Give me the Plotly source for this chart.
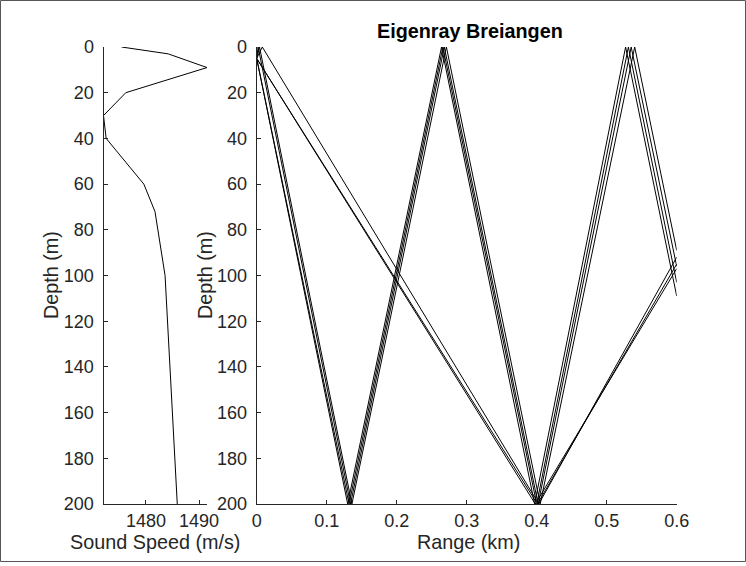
import plotly.graph_objects as go

W, H = 746, 566

# Sound speed profile
ssp_depth = [0, 3, 9, 20, 30, 40, 60, 72, 100, 200]
ssp_speed = [1475.4, 1484.2, 1491.5, 1476.2, 1472.0, 1472.5, 1479.6, 1481.7, 1483.6, 1485.9]

# Eigenrays (range km, depth m)
ray1_range = [0, 0.130, 0.264, 0.397, 0.527, 0.6]
ray1_depth = [5, 200, 0, 200, 0, 109]
ray2_range = [0, 0.132, 0.266, 0.400, 0.531, 0.6]
ray2_depth = [5, 200, 0, 200, 0, 103]
ray3_range = [0, 0.002, 0.134, 0.268, 0.402, 0.535, 0.6]
ray3_depth = [5, 0, 200, 0, 200, 0, 96]
ray4_range = [0, 0.004, 0.136, 0.271, 0.405, 0.540, 0.6]
ray4_depth = [5, 0, 200, 0, 200, 0, 89]
ray5_range = [0, 0.398, 0.6]
ray5_depth = [5, 200, 97]
ray6_range = [0, 0.401, 0.6]
ray6_depth = [5, 200, 95]
ray7_range = [0, 0.008, 0.403, 0.6]
ray7_depth = [5, 0, 200, 92]

rays = [(ray1_range, ray1_depth), (ray2_range, ray2_depth), (ray3_range, ray3_depth),
        (ray4_range, ray4_depth), (ray5_range, ray5_depth), (ray6_range, ray6_depth),
        (ray7_range, ray7_depth)]

depth_ticks = list(range(0, 201, 20))
range_ticks = [0, 0.1, 0.2, 0.3, 0.4, 0.5, 0.6]
range_labels = ["0", "0.1", "0.2", "0.3", "0.4", "0.5", "0.6"]
speed_ticks = [1480, 1490]

FONT = "Liberation Sans, Arial, Helvetica, sans-serif"
AX = "#262626"

def px(x):
    return x / W

def py(y):
    return 1 - y / H

fig = go.Figure()
fig.add_trace(go.Scatter(x=ssp_speed, y=ssp_depth, mode="lines",
                         line=dict(color="black", width=1), xaxis="x", yaxis="y",
                         showlegend=False))
for r, d in rays:
    fig.add_trace(go.Scatter(x=r, y=d, mode="lines", line=dict(color="black", width=1),
                             xaxis="x2", yaxis="y2", showlegend=False))

axis_common = dict(showgrid=False, zeroline=False, showline=True, linecolor=AX, linewidth=1,
                   ticks="inside", ticklen=4, tickcolor=AX, mirror=False,
                   tickfont=dict(family=FONT, size=18, color=AX), automargin=False)

ybot, ytop = py(504), py(47)
fig.update_layout(
    width=W, height=H, margin=dict(l=0, r=0, t=0, b=0),
    paper_bgcolor="white", plot_bgcolor="white",
    xaxis=dict(domain=[px(103.5), px(207)], range=[1472, 1491.5], tickvals=speed_ticks,
               anchor="y", **axis_common),
    yaxis=dict(domain=[ybot, ytop], range=[200, 0], tickvals=depth_ticks, anchor="x",
               ticklabelstandoff=5, **axis_common),
    xaxis2=dict(domain=[px(256.7), px(676.7)], range=[0, 0.6], tickvals=range_ticks,
                ticktext=range_labels, anchor="y2", **axis_common),
    yaxis2=dict(domain=[ybot, ytop], range=[200, 0], tickvals=depth_ticks, anchor="x2",
                ticklabelstandoff=5, **axis_common),
    showlegend=False,
)

tfont = dict(family=FONT, size=19.8, color=AX)
annos = [
    dict(text="Sound Speed (m/s)", x=px(155), y=py(542)),
    dict(text="Range (km)", x=px(468), y=py(542)),
    dict(text="Depth (m)", x=px(51), y=py(275), textangle=-90),
    dict(text="Depth (m)", x=px(205), y=py(275), textangle=-90),
    dict(text="<b>Eigenray Breiangen</b>", x=px(470), y=py(31), font=dict(family=FONT, size=19.8, color="black")),
]
for a in annos:
    a.setdefault("font", tfont)
    fig.add_annotation(xref="paper", yref="paper", showarrow=False,
                       xanchor="center", yanchor="middle", **a)

fig.add_shape(type="rect", xref="paper", yref="paper",
              x0=px(0.5), x1=px(745.5), y0=py(561.5), y1=py(0.5),
              line=dict(color="#555555", width=1), fillcolor="rgba(0,0,0,0)")

fig.write_html("out.html", config={"displayModeBar": False},
               post_script="document.body.style.margin='0';document.body.style.overflow='hidden';")
